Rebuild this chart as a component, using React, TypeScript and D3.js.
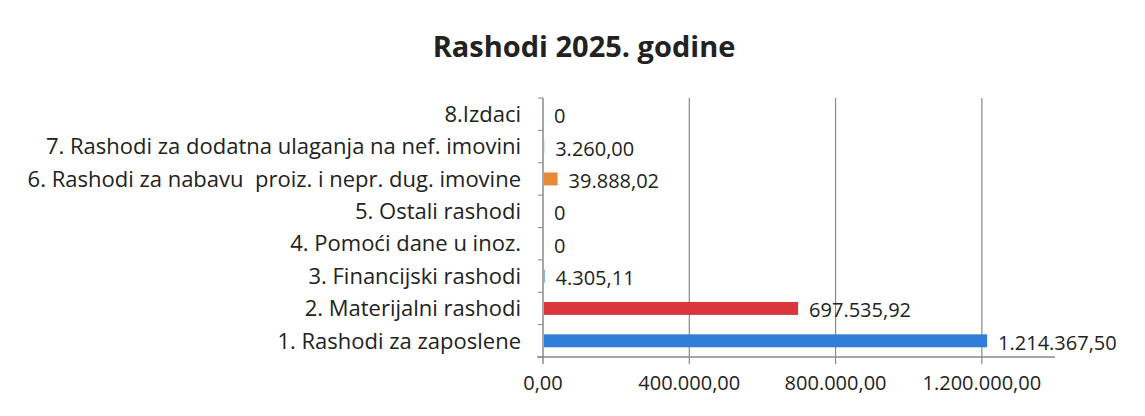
import React from 'react';
import * as d3 from 'd3';

const categories = [
  '1. Rashodi za zaposlene',
  '2. Materijalni rashodi',
  '3. Financijski rashodi',
  '4. Pomoći dane u inoz.',
  '5. Ostali rashodi',
  '6. Rashodi za nabavu  proiz. i nepr. dug. imovine',
  '7. Rashodi za dodatna ulaganja na nef. imovini',
  '8.Izdaci',
];
const values = [1214367.5, 697535.92, 4305.11, 0, 0, 39888.02, 3260, 0];
const valueLabels = ['1.214.367,50', '697.535,92', '4.305,11', '0', '0', '39.888,02', '3.260,00', '0'];
const barColors = ['#2f7ed8', '#d9363e', '#2f7ed8', '#2f7ed8', '#2f7ed8', '#e8893a', '#2f7ed8', '#2f7ed8'];
const xTicks = [0, 400000, 800000, 1200000];
const xTickLabels = ['0,00', '400.000,00', '800.000,00', '1.200.000,00'];

const W = 1145;
const H = 416;
const left = 543;
const top = 98;
const bottom = 357;
const font = '"Open Sans", "Noto Sans", sans-serif';

export default function App() {
  const x = d3.scaleLinear().domain([0, 1400000]).range([left, left + 512]);
  const y = d3
    .scaleBand<number>()
    .domain(d3.range(categories.length).reverse())
    .range([top, bottom])
    .paddingInner(0.6)
    .paddingOuter(0.3);
  const band = (bottom - top) / categories.length;

  return (
    <svg width={W} height={H} style={{ position: 'absolute', left: 0, top: 0, background: '#fff' }}>
      <text x={584} y={57} textAnchor="middle" fontFamily={font} fontWeight="bold" fontSize={29} fill="#222">
        Rashodi 2025. godine
      </text>

      {/* gridlines */}
      {xTicks.slice(1).map((t) => (
        <line key={t} x1={x(t)} x2={x(t)} y1={top} y2={bottom + 7} stroke="#8a8a8a" strokeWidth={1.2} />
      ))}

      {/* axes */}
      <line x1={left} x2={left} y1={top} y2={bottom + 7} stroke="#8a8a8a" strokeWidth={1.5} />
      {d3.range(categories.length + 1).map((i) => (
        <line key={i} x1={left - 5} x2={left} y1={top + i * band} y2={top + i * band} stroke="#8a8a8a" strokeWidth={1} />
      ))}
      <line x1={left - 6} x2={x(1400000)} y1={bottom} y2={bottom} stroke="#8a8a8a" strokeWidth={1.5} />

      {/* bars */}
      {values.map((v, i) => (
        <rect
          key={i}
          x={left + 1}
          y={y(i)}
          width={Math.max(0, x(v) - left - 1)}
          height={y.bandwidth()}
          fill={barColors[i]}
        />
      ))}

      {/* category labels */}
      {categories.map((c, i) => (
        <text
          key={c}
          x={left - 22}
          y={(y(i) ?? 0) + y.bandwidth() / 2}
          dy="0.35em"
          textAnchor="end"
          fontFamily={font}
          fontSize={22}
          fill="#222"
          style={{ whiteSpace: 'pre' }}
        >
          {c}
        </text>
      ))}

      {/* value labels */}
      {values.map((v, i) => (
        <text
          key={i}
          x={x(v) + 11}
          y={(y(i) ?? 0) + y.bandwidth() / 2 + 2}
          dy="0.35em"
          fontFamily={font}
          fontSize={20}
          fill="#222"
        >
          {valueLabels[i]}
        </text>
      ))}

      {/* x tick labels */}
      {xTicks.map((t, i) => (
        <text key={t} x={x(t)} y={390} textAnchor="middle" fontFamily={font} fontSize={20} fill="#222">
          {xTickLabels[i]}
        </text>
      ))}
    </svg>
  );
}
